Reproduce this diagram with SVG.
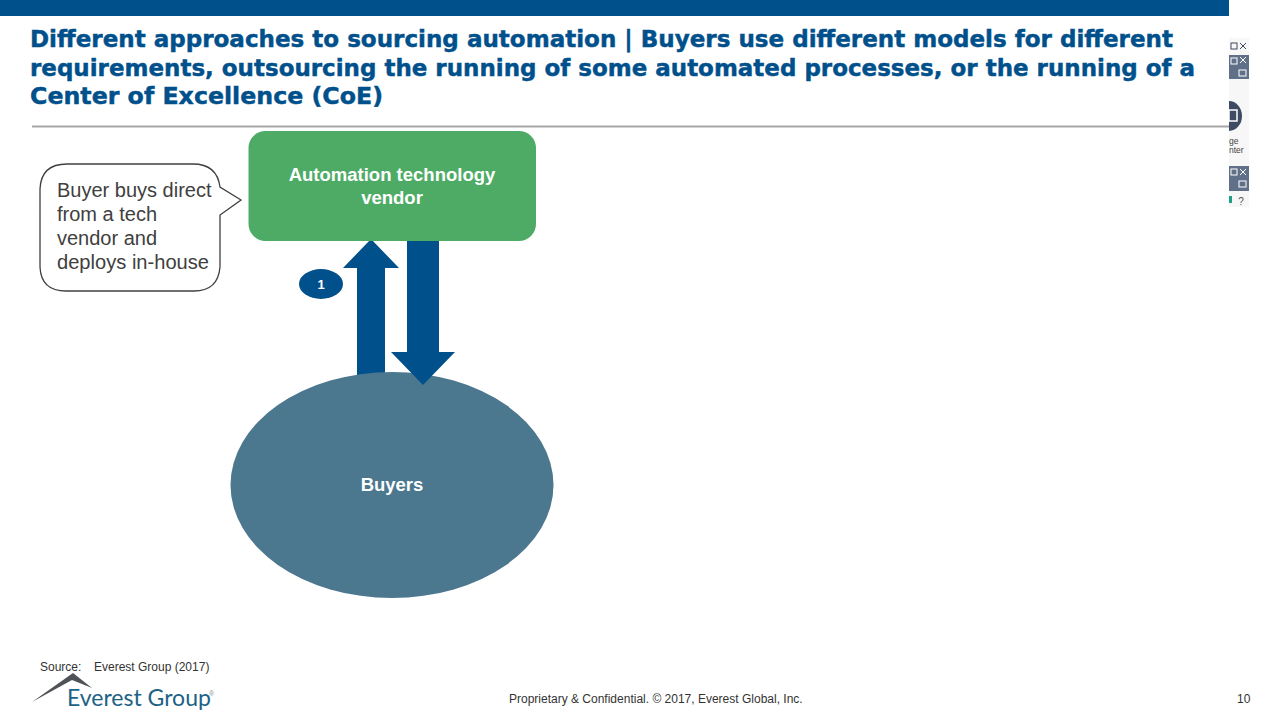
<svg xmlns="http://www.w3.org/2000/svg" width="1280" height="720" viewBox="0 0 1280 720">
<style>
text{font-family:"Liberation Sans",Arial,sans-serif}
.title{font-family:"DejaVu Sans",Verdana,sans-serif;font-weight:700;font-size:23.5px;fill:#00508c;stroke:#00508c;stroke-width:.45px}
.node{font-weight:700;font-size:18.5px;fill:#fff;text-anchor:middle}
.call{font-size:20px;fill:#404040}
.small{font-size:12px;fill:#333}
.arrow{fill:#00508c}
.tbtn{fill:#5f7088}
.ico{fill:none;stroke:#3f4a5c;stroke-width:1}
.icw{fill:none;stroke:#fff;stroke-width:1}
</style>
<rect width="1280" height="720" fill="#fff"/>
<rect x="0" y="0" width="1229" height="16" fill="#00508c"/>
<g id="title">
<text class="title" x="30" y="47" textLength="1143" lengthAdjust="spacingAndGlyphs">Different approaches to sourcing automation | Buyers use different models for different</text>
<text class="title" x="30" y="76" textLength="1165" lengthAdjust="spacingAndGlyphs">requirements, outsourcing the running of some automated processes, or the running of a</text>
<text class="title" x="30" y="104" textLength="353" lengthAdjust="spacingAndGlyphs">Center of Excellence (CoE)</text>
</g>
<g id="sidebar">
<rect x="1229" y="38" width="20" height="169" fill="#f7f7f7"/>
<rect x="1229" y="55" width="20" height="24" class="tbtn"/>
<rect x="1229" y="166" width="20" height="25" class="tbtn"/>
<rect x="1231" y="43" width="6" height="6" class="ico"/>
<path d="M1240 43l6 6M1246 43l-6 6" class="ico"/>
<rect x="1231" y="58" width="6" height="6" class="icw"/>
<path d="M1240 57l6 6M1246 57l-6 6" class="icw"/>
<rect x="1239" y="70" width="7" height="6" class="icw"/>
<rect x="1231" y="169" width="6" height="6" class="icw"/>
<path d="M1240 169l6 6M1246 169l-6 6" class="icw"/>
<rect x="1239" y="181" width="7" height="6" class="icw"/>
<path d="M1229 101a13 15 0 0 1 0 30z" fill="#3f4a63"/>
<rect x="1229" y="110" width="8" height="11" fill="none" stroke="#fff" stroke-width="1.5"/>
<text x="1229" y="144" font-size="8.5" fill="#444">ge</text>
<text x="1229" y="153" font-size="8.5" fill="#444">nter</text>
<rect x="1229" y="196" width="3" height="7" fill="#1f9e83"/>
<text x="1241" y="205" font-size="10" fill="#555" text-anchor="middle">?</text>
</g>
<line x1="32" y1="126.500" x2="1229" y2="126.500" stroke="#a6a6a6" stroke-width="2"/>
<g id="connectors">
<polygon id="arrow-up" class="arrow" points="371,239 399,268 385,268 385,380 357,380 357,268 343,268"/>
</g>
<g id="buyers">
<ellipse cx="392" cy="485" rx="161.500" ry="113" fill="#4b788f"/>
<text class="node" x="392" y="491">Buyers</text>
</g>
<g id="connectors-over">
<polygon id="arrow-down" class="arrow" points="407,241 439,241 439,352 455,352 423,385 391,352 407,352"/>
</g>
<g id="vendor">
<rect x="248.500" y="131" width="287.500" height="110" rx="17" fill="#4dab65"/>
<text class="node" x="392" y="181">Automation technology</text>
<text class="node" x="392" y="204">vendor</text>
</g>
<g id="badge">
<ellipse cx="321" cy="284" rx="22" ry="15" fill="#00508c"/>
<text x="321" y="289" font-size="13" font-weight="700" fill="#fff" text-anchor="middle">1</text>
</g>
<g id="callout">
<path d="M67 164H193Q217 164 220 187L241 200L220 215V267Q218 291 194 291H66Q41 291 40 267V189Q41 164 67 164Z" fill="#fff" stroke="#404040" stroke-width="1.300"/>
<text class="call" x="57" y="197">Buyer buys direct</text>
<text class="call" x="57" y="221">from a tech</text>
<text class="call" x="57" y="245">vendor and</text>
<text class="call" x="57" y="269" textLength="152" lengthAdjust="spacingAndGlyphs">deploys in-house</text>
</g>
<g id="footer">
<text class="small" x="40" y="671">Source:</text>
<text class="small" x="94" y="671">Everest Group (2017)</text>
<polygon points="32,702 73,673 92,688 72,680" fill="#4f5358"/>
<text x="67" y="706" font-size="23" fill="#1c6286" style="font-family:Lato,'Liberation Sans',sans-serif">Everest Group</text>
<text x="209" y="696" font-size="7" fill="#8a8f94">®</text>
<text class="small" x="509" y="703">Proprietary &amp; Confidential. © 2017, Everest Global, Inc.</text>
<text class="small" x="1237" y="703">10</text>
</g>
</svg>
